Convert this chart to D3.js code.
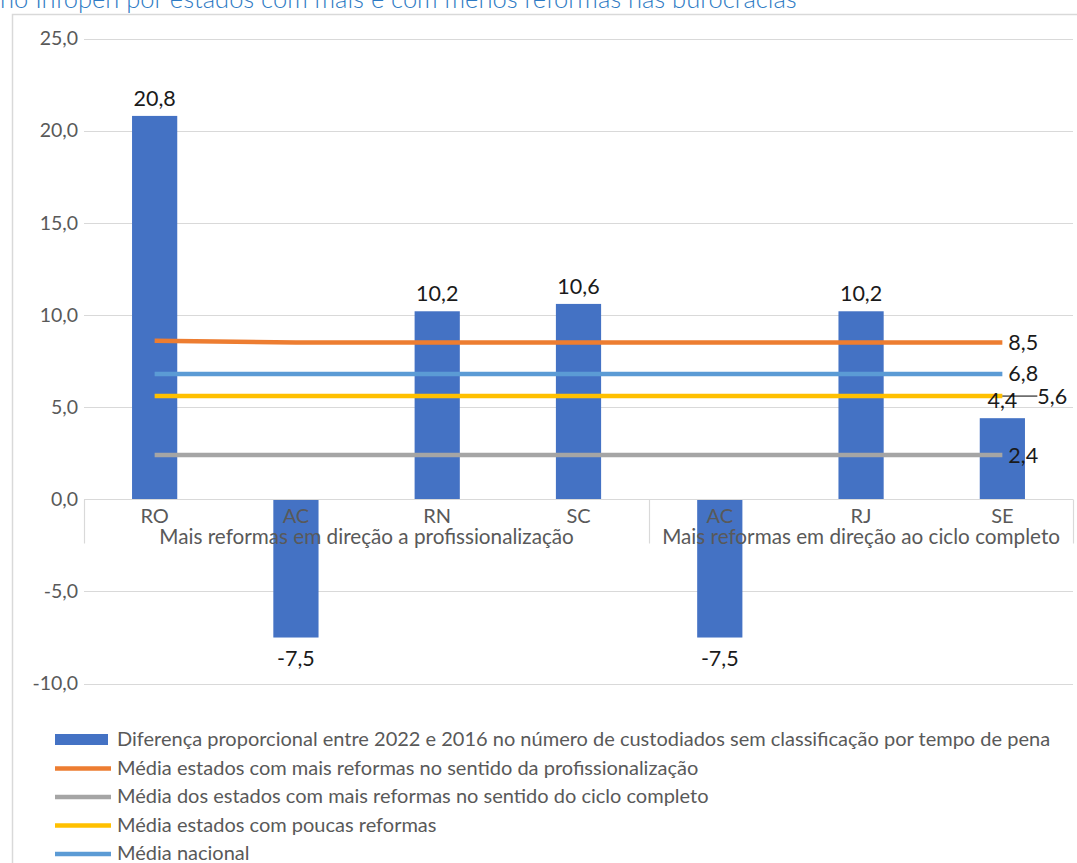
<!DOCTYPE html>
<html>
<head>
<meta charset="utf-8">
<script src="https://cdn.jsdelivr.net/npm/d3@7/dist/d3.min.js"></script>
<style>
  html, body { margin: 0; padding: 0; background: #fff; }
  svg { display: block; font-family: Lato, "Open Sans", sans-serif; }
</style>
</head>
<body>
<svg id="chart" width="1077" height="863"></svg>
<script>
// Estados e grupos de reforma
const categories = ["RO", "AC", "RN", "SC", "AC", "RJ", "SE"];
const groupLabels = ["Mais reformas em direção a profissionalização", "Mais reformas em direção ao ciclo completo"];
const groupSizes = [4, 3];

// Diferença proporcional (2022 vs 2016) por estado
const barValues = [20.8, -7.5, 10.2, 10.6, -7.5, 10.2, 4.4];

// Médias de referência (uma por estado, para as linhas)
const mediaProfissionalizacao = [8.6, 8.5, 8.5, 8.5, 8.5, 8.5, 8.5];
const mediaCicloCompleto = [2.4, 2.4, 2.4, 2.4, 2.4, 2.4, 2.4];
const mediaPoucasReformas = [5.6, 5.6, 5.6, 5.6, 5.6, 5.6, 5.6];
const mediaNacional = [6.8, 6.8, 6.8, 6.8, 6.8, 6.8, 6.8];

const yTicks = [-10, -5, 0, 5, 10, 15, 20, 25];

const legendLabels = [
  "Diferença proporcional entre 2022 e 2016 no número de custodiados sem classificação por tempo de pena",
  "Média estados com mais reformas no sentido da profissionalização",
  "Média dos estados com mais reformas no sentido do ciclo completo",
  "Média estados com poucas reformas",
  "Média nacional"
];

const fmt = v => d3.format(".1f")(v).replace(".", ",").replace("\u2212", "-");

const svg = d3.select("#chart");
const W = 1077, H = 863;

// Título (parcialmente fora da área visível)
svg.append("text")
  .attr("x", 0).attr("y", 8)
  .attr("fill", "#2E7BC4")
  .attr("font-size", 25.5)
  .attr("font-weight", 300)
  .text("no Infopen por estados com mais e com menos reformas nas burocracias");

// Moldura da área do gráfico
svg.append("path")
  .attr("d", `M12.5,${H} V14.5 H${W}`)
  .attr("fill", "none")
  .attr("stroke", "#d9d9d9")
  .attr("stroke-width", 1.5);

const plot = { left: 84, right: 1073 };
const y = d3.scaleLinear().domain([-10, 25]).range([683.6, 38.5]);
const x = d3.scaleBand()
  .domain(d3.range(categories.length))
  .range([plot.left, plot.right])
  .paddingInner(0.68)
  .paddingOuter(0.34);

// Grade horizontal
svg.append("g")
  .selectAll("line")
  .data(yTicks.filter(t => t !== 0))
  .join("line")
  .attr("x1", plot.left).attr("x2", plot.right)
  .attr("y1", d => Math.round(y(d)) + 0.5).attr("y2", d => Math.round(y(d)) + 0.5)
  .attr("stroke", "#d9d9d9").attr("stroke-width", 1);

// Eixo Y
const yAxis = svg.append("g")
  .attr("transform", `translate(${plot.left - 6},0)`)
  .call(d3.axisLeft(y).tickValues(yTicks).tickFormat(fmt).tickSize(0).tickPadding(0));
yAxis.select(".domain").remove();
yAxis.selectAll("text")
  .attr("fill", "#595959")
  .attr("font-size", 19.5)
  .attr("font-family", "Lato, sans-serif");

// Barras
svg.append("g")
  .selectAll("rect")
  .data(barValues)
  .join("rect")
  .attr("x", (d, i) => x(i))
  .attr("width", x.bandwidth())
  .attr("y", d => y(Math.max(0, d)))
  .attr("height", d => Math.abs(y(d) - y(0)))
  .attr("fill", "#4472C4");

// Eixo de categorias (linha zero e separadores de grupo)
const y0 = Math.round(y(0)) + 0.5;
const axisG = svg.append("g");
axisG.append("line")
  .attr("x1", plot.left).attr("x2", plot.right)
  .attr("y1", y0).attr("y2", y0)
  .attr("stroke", "#d9d9d9").attr("stroke-width", 1.2);

const step = x.step();
let start = 0;
const boundaries = [plot.left];
groupSizes.forEach(n => { start += n; boundaries.push(plot.left + start * step); });
axisG.selectAll("line.sep")
  .data(boundaries)
  .join("line")
  .attr("class", "sep")
  .attr("x1", d => Math.round(d) + 0.5).attr("x2", d => Math.round(d) + 0.5)
  .attr("y1", y0).attr("y2", y0 + 44)
  .attr("stroke", "#d9d9d9").attr("stroke-width", 1.2);

axisG.selectAll("text.cat")
  .data(categories)
  .join("text")
  .attr("class", "cat")
  .attr("x", (d, i) => x(i) + x.bandwidth() / 2)
  .attr("y", y0 + 23)
  .attr("text-anchor", "middle")
  .attr("fill", "#595959")
  .attr("font-size", 20)
  .text(d => d);

let gs = 0;
axisG.selectAll("text.grp")
  .data(groupLabels)
  .join("text")
  .attr("class", "grp")
  .attr("x", (d, i) => {
    const a = plot.left + gs * step;
    gs += groupSizes[i];
    const b = plot.left + gs * step;
    return (a + b) / 2;
  })
  .attr("y", y0 + 44)
  .attr("text-anchor", "middle")
  .attr("fill", "#595959")
  .attr("font-size", 20.7)
  .text(d => d);

// Linhas das médias
const lineSeries = [
  { values: mediaProfissionalizacao, color: "#ED7D31" },
  { values: mediaCicloCompleto, color: "#A5A5A5" },
  { values: mediaPoucasReformas, color: "#FFC000" },
  { values: mediaNacional, color: "#5B9BD5" }
];
const line = d3.line()
  .x((d, i) => x(i) + x.bandwidth() / 2)
  .y(d => y(d));
svg.append("g")
  .selectAll("path")
  .data(lineSeries)
  .join("path")
  .attr("d", d => line(d.values))
  .attr("fill", "none")
  .attr("stroke", d => d.color)
  .attr("stroke-width", 4.5);

// Rótulos das barras
svg.append("g")
  .selectAll("text")
  .data(barValues)
  .join("text")
  .attr("x", (d, i) => x(i) + x.bandwidth() / 2)
  .attr("y", d => d >= 0 ? y(d) - 10 : y(d) + 28)
  .attr("text-anchor", "middle")
  .attr("fill", "#1a1a1a")
  .attr("font-size", 21.5)
  .text(fmt);

// Rótulos das médias (no último ponto)
const last = categories.length - 1;
const lastX = x(last) + x.bandwidth() / 2;
const endLabels = [
  { v: mediaProfissionalizacao[last], dx: 6 },
  { v: mediaNacional[last], dx: 6 },
  { v: mediaCicloCompleto[last], dx: 6 },
  { v: mediaPoucasReformas[last], dx: 35, leader: true }
];
const endG = svg.append("g");
endLabels.forEach(l => {
  if (l.leader) {
    endG.append("line")
      .attr("x1", lastX).attr("x2", lastX + l.dx)
      .attr("y1", y(l.v)).attr("y2", y(l.v))
      .attr("stroke", "#000").attr("stroke-width", 1);
  }
  endG.append("text")
    .attr("x", lastX + l.dx)
    .attr("y", y(l.v) + 7.5)
    .attr("fill", "#1a1a1a")
    .attr("font-size", 21.5)
    .text(fmt(l.v));
});

// Legenda
const legend = svg.append("g");
const legY0 = 739, legStep = 28.5;
legendLabels.forEach((t, i) => {
  const cy = legY0 + i * legStep;
  if (i === 0) {
    legend.append("rect")
      .attr("x", 55).attr("y", cy - 5).attr("width", 53).attr("height", 11)
      .attr("fill", "#4472C4");
  } else {
    const c = [null, "#ED7D31", "#A5A5A5", "#FFC000", "#5B9BD5"][i];
    legend.append("line")
      .attr("x1", 55).attr("x2", 111)
      .attr("y1", cy + 1).attr("y2", cy + 1)
      .attr("stroke", c).attr("stroke-width", 4.5);
  }
  legend.append("text")
    .attr("x", 117).attr("y", cy + 7)
    .attr("fill", "#595959")
    .attr("font-size", 20)
    .text(t);
});
</script>
</body>
</html>
